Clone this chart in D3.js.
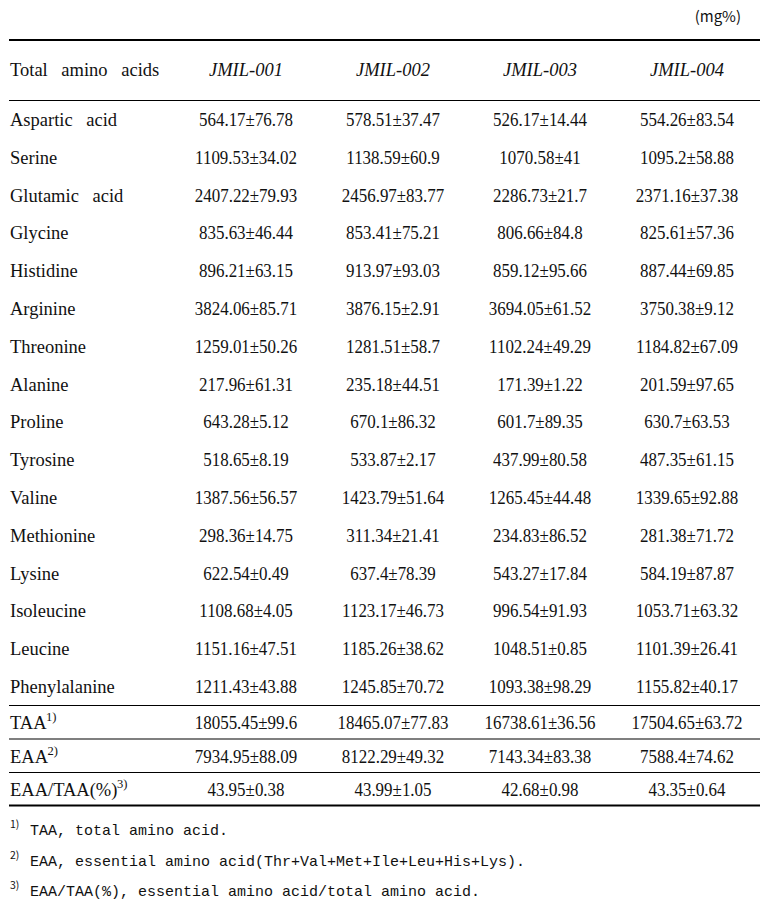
<!DOCTYPE html>
<html><head><meta charset="utf-8">
<script src="https://cdn.jsdelivr.net/npm/d3@7"></script>
<style>body{margin:0;background:#fff}</style></head>
<body><script>
const samples = ["JMIL-001","JMIL-002","JMIL-003","JMIL-004"];
const headerLabel = "Total amino acids";
const unitLabel = "(mg%)";
const aminoAcids = ["Aspartic acid","Serine","Glutamic acid","Glycine","Histidine","Arginine","Threonine","Alanine","Proline","Tyrosine","Valine","Methionine","Lysine","Isoleucine","Leucine","Phenylalanine"];
const summaryRows = ["TAA","EAA","EAA/TAA(%)"];
const summaryNotes = ["1)","2)","3)"];
const mean001 = [564.17,1109.53,2407.22,835.63,896.21,3824.06,1259.01,217.96,643.28,518.65,1387.56,298.36,622.54,1108.68,1151.16,1211.43,18055.45,7934.95,43.95];
const sd001 = [76.78,34.02,79.93,46.44,63.15,85.71,50.26,61.31,5.12,8.19,56.57,14.75,0.49,4.05,47.51,43.88,99.6,88.09,0.38];
const mean002 = [578.51,1138.59,2456.97,853.41,913.97,3876.15,1281.51,235.18,670.1,533.87,1423.79,311.34,637.4,1123.17,1185.26,1245.85,18465.07,8122.29,43.99];
const sd002 = [37.47,60.9,83.77,75.21,93.03,2.91,58.7,44.51,86.32,2.17,51.64,21.41,78.39,46.73,38.62,70.72,77.83,49.32,1.05];
const mean003 = [526.17,1070.58,2286.73,806.66,859.12,3694.05,1102.24,171.39,601.7,437.99,1265.45,234.83,543.27,996.54,1048.51,1093.38,16738.61,7143.34,42.68];
const sd003 = [14.44,41,21.7,84.8,95.66,61.52,49.29,1.22,89.35,80.58,44.48,86.52,17.84,91.93,0.85,98.29,36.56,83.38,0.98];
const mean004 = [554.26,1095.2,2371.16,825.61,887.44,3750.38,1184.82,201.59,630.7,487.35,1339.65,281.38,584.19,1053.71,1101.39,1155.82,17504.65,7588.4,43.35];
const sd004 = [83.54,58.88,37.38,57.36,69.85,9.12,67.09,97.65,63.53,61.15,92.88,71.72,87.87,63.32,26.41,40.17,63.72,74.62,0.64];
const footnotes = ["TAA, total amino acid.","EAA, essential amino acid(Thr+Val+Met+Ile+Leu+His+Lys).","EAA/TAA(%), essential amino acid/total amino acid."];

const means = [mean001, mean002, mean003, mean004];
const sds = [sd001, sd002, sd003, sd004];

const W = 762, H = 906;
const svg = d3.select("body").append("svg").attr("width", W).attr("height", H);
svg.append("rect").attr("width", W).attr("height", H).attr("fill", "#fff");

const serif = "'Liberation Serif', 'DejaVu Serif', serif";
const x = d3.scalePoint().domain(samples).range([246, 687]);
const yAmino = d3.scaleLinear().domain([0, aminoAcids.length - 1]).range([126, 693]);
const ySum = d3.scaleLinear().domain([0, summaryRows.length - 1]).range([729, 796]);
const rowY = i => i < aminoAcids.length ? yAmino(i) : ySum(i - aminoAcids.length);
const x0 = 9, x1 = 760;

// rules
const rules = [
  {y: 40, w: 2},
  {y: 100.5, w: 1.2},
  {y: ySum(0) - 23.5, w: 1.2},
  {y: ySum(1) - 23.5, w: 1.2},
  {y: ySum(2) - 23.5, w: 1.2},
  {y: ySum(2) + 9.5, w: 2.2}
];
svg.selectAll("line.rule").data(rules).join("line")
  .attr("x1", x0).attr("x2", x1)
  .attr("y1", d => d.y).attr("y2", d => d.y)
  .attr("stroke", "#000").attr("stroke-width", d => d.w);

// unit
svg.append("text").attr("x", 741).attr("y", 22).attr("text-anchor", "end")
  .attr("font-family", "'Noto Sans CJK KR', 'Noto Sans', sans-serif").attr("font-size", 15)
  .attr("fill", "#111").text(unitLabel);

// header
svg.append("text").attr("x", 10).attr("y", 76)
  .attr("font-family", serif).attr("font-size", 18.5).attr("word-spacing", 9)
  .attr("fill", "#111").text(headerLabel);
svg.selectAll("text.hdr").data(samples).join("text").attr("class", "hdr")
  .attr("x", d => x(d)).attr("y", 76).attr("text-anchor", "middle")
  .attr("font-family", serif).attr("font-style", "italic").attr("font-size", 18.5)
  .attr("fill", "#111").text(d => d);

// row labels
const labels = aminoAcids.map((n, i) => ({name: n, i, note: null}))
  .concat(summaryRows.map((n, k) => ({name: n, i: aminoAcids.length + k, note: summaryNotes[k]})));
const lab = svg.selectAll("text.lab").data(labels).join("text").attr("class", "lab")
  .attr("x", 10).attr("y", d => rowY(d.i))
  .attr("font-family", serif).attr("font-size", 18.5).attr("word-spacing", 9)
  .attr("fill", "#111");
lab.append("tspan").text(d => d.name);
lab.filter(d => d.note).append("tspan").attr("font-size", 12.5).attr("dy", -8).attr("dx", -0.5).text(d => d.note);

// cells (condensed horizontally like the reference face)
const cells = [];
for (let i = 0; i < labels.length; i++) {
  for (let j = 0; j < samples.length; j++) {
    cells.push({i, s: samples[j], m: means[j][i], sd: sds[j][i]});
  }
}
const ct = svg.selectAll("text.cell").data(cells).join("text").attr("class", "cell")
  .attr("x", d => x(d.s)).attr("y", d => rowY(d.i)).attr("text-anchor", "middle")
  .attr("font-family", serif).attr("font-size", 18.5).attr("fill", "#111")
  .text(d => String(d.m) + "±" + String(d.sd));
const refW = ct.node().getComputedTextLength();
const kx = 94 / refW;
ct.each(function() {
  const w = this.getComputedTextLength();
  d3.select(this).attr("textLength", (w * kx).toFixed(1)).attr("lengthAdjust", "spacingAndGlyphs");
});

// footnotes
const fy = d3.scaleLinear().domain([0, footnotes.length - 1]).range([835, 896]);
const fn = svg.selectAll("g.fn").data(footnotes).join("g").attr("class", "fn");
fn.append("text").attr("x", 10).attr("y", (d, i) => fy(i) - 7)
  .attr("font-family", "'Noto Sans CJK KR', sans-serif").attr("font-size", 10.5).attr("fill", "#111")
  .text((d, i) => summaryNotes[i]);
fn.append("text").attr("x", 30).attr("y", (d, i) => fy(i))
  .attr("font-family", "'Liberation Mono', 'DejaVu Sans Mono', monospace").attr("font-size", 15)
  .attr("fill", "#111")
  .text(d => d);
</script></body></html>
